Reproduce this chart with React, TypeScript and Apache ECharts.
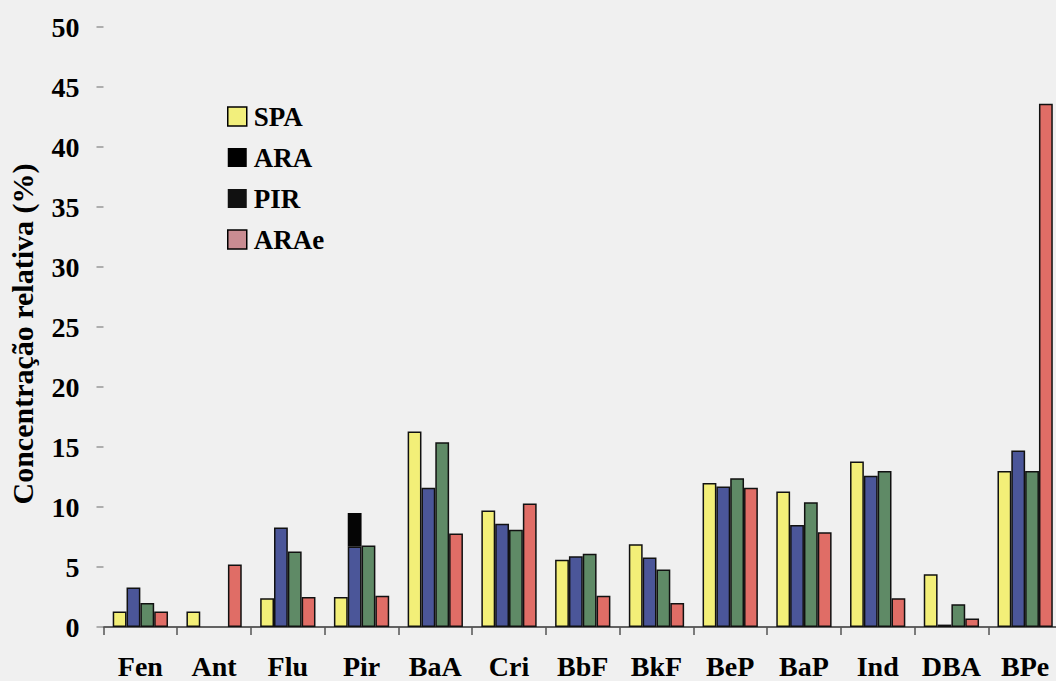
import React, { useEffect, useRef } from "react";
import * as echarts from "echarts";

// Hidrocarbonetos policíclicos aromáticos (HPA)
const categories = ["Fen", "Ant", "Flu", "Pir", "BaA", "Cri", "BbF", "BkF", "BeP", "BaP", "Ind", "DBA", "BPe"];

// Concentração relativa (%) por amostra
const spa = [1.3, 1.3, 2.4, 2.5, 16.3, 9.7, 5.6, 6.9, 12.0, 11.3, 13.8, 4.4, 13.0];
const ara = [3.3, null, 8.3, 6.7, 11.6, 8.6, 5.9, 5.8, 11.7, 8.5, 12.6, 0.2, 14.7];
const pir = [2.0, null, 6.3, 6.8, 15.4, 8.1, 6.1, 4.8, 12.4, 10.4, 13.0, 1.9, 13.0];
const arae = [1.3, 5.2, 2.5, 2.6, 7.8, 10.3, 2.6, 2.0, 11.6, 7.9, 2.4, 0.7, 43.6];
// mancha escura sobre a barra ARA de Pir
const araMancha = [null, null, null, 2.8, null, null, null, null, null, null, null, null, null];

const seriesNames = ["SPA", "ARA", "PIR", "ARAe"];
const yTicks = { min: 0, max: 50, interval: 5 };

const FONT = "'Liberation Serif', 'Times New Roman', serif";

export default function App() {
  const ref = useRef<HTMLDivElement>(null);

  useEffect(() => {
    document.body.style.margin = "0";
    const chart = echarts.init(ref.current!, null, { renderer: "svg" });
    const border = { borderColor: "#111", borderWidth: 1.5 };
    const bar = (name: string, data: (number | null)[], color: string, extra: any = {}) => ({
      type: "bar",
      name,
      data,
      barGap: "0%",
      barCategoryGap: "25%",
      itemStyle: { color, ...border },
      ...extra,
    });

    chart.setOption({
      animation: false,
      backgroundColor: "#f0f0f0",
      grid: { left: 103.5, right: 0, top: 27, bottom: 54 },
      legend: {
        orient: "vertical",
        left: 227,
        top: 103,
        padding: 0,
        itemWidth: 19,
        itemHeight: 19,
        itemGap: 14,
        icon: "rect",
        textStyle: { fontFamily: FONT, fontWeight: "bold", fontSize: 27, color: "#000", padding: [0, 0, 0, 2] },
        data: [
          { name: "SPA", itemStyle: { color: "#f2ef7c", borderColor: "#000", borderWidth: 1.5 } },
          { name: "ARA", itemStyle: { color: "#000", borderColor: "#000", borderWidth: 0 } },
          { name: "PIR", itemStyle: { color: "#111", borderColor: "#000", borderWidth: 0 } },
          { name: "ARAe", itemStyle: { color: "#c98c92", borderColor: "#000", borderWidth: 1.5 } },
        ],
      },
      graphic: [
        {
          type: "text",
          x: 22,
          y: 334,
          rotation: Math.PI / 2,
          style: {
            text: "Concentração relativa (%)",
            font: `bold 30px ${FONT}`,
            fill: "#000",
            textAlign: "center",
            textVerticalAlign: "middle",
          },
        },
      ],
      xAxis: {
        type: "category",
        data: categories,
        axisLine: { show: true, lineStyle: { color: "#333", width: 1.5 } },
        axisTick: { show: true, length: 8, lineStyle: { color: "#555", width: 1.5 } },
        axisLabel: { fontFamily: FONT, fontWeight: "bold", fontSize: 28, color: "#000", margin: 25, interval: 0 },
      },
      yAxis: {
        type: "value",
        min: yTicks.min,
        max: yTicks.max,
        interval: yTicks.interval,
        axisLine: { show: false },
        axisTick: { show: true, length: 7, lineStyle: { color: "#999", width: 1.5 } },
        splitLine: { show: false },
        axisLabel: { fontFamily: FONT, fontWeight: "bold", fontSize: 28, color: "#000", margin: 24 },
      },
      series: [
        bar(seriesNames[0], spa, "#f3ef78"),
        bar(seriesNames[1], ara, "#4b5699", { stack: "ara" }),
        bar("ARA (mancha)", araMancha, "#050505", { stack: "ara", itemStyle: { color: "#050505", borderWidth: 0 } }),
        bar(seriesNames[2], pir, "#5f8a66"),
        bar(seriesNames[3], arae, "#e06d66"),
      ],
    });
    return () => chart.dispose();
  }, []);

  // the plot runs slightly past the right edge of the 1056px frame
  return (
    <div style={{ width: 1056, height: 681, overflow: "hidden" }}>
      <div ref={ref} style={{ width: 1062, height: 681 }} />
    </div>
  );
}
